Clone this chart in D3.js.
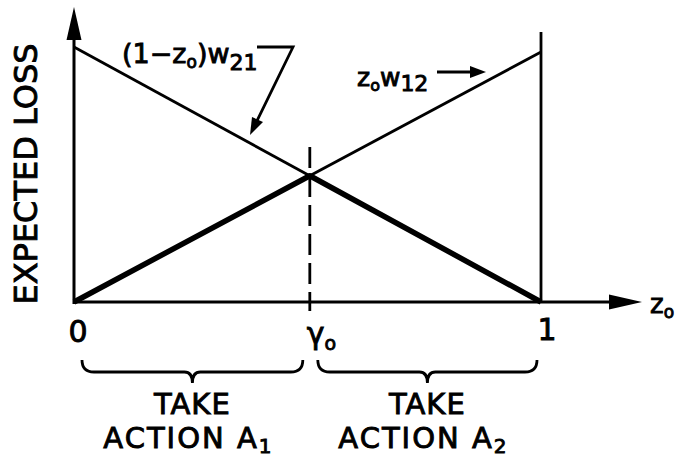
<!DOCTYPE html>
<html>
<head>
<meta charset="utf-8">
<script src="https://cdn.jsdelivr.net/npm/d3@7"></script>
<style>
  body { margin: 0; background: #fff; }
  text { font-family: "DejaVu Sans", sans-serif; fill: #000; stroke: #000; stroke-width: 0.9px; }
</style>
</head>
<body>
<div id="chart"></div>
<script>
// Expected loss for the two actions, as a function of z_o

const width = 680,
    height = 458;

// data
const zPoints = [0, 1];
const lossA1Line = [1.02, 0];   // (1 - z_o) w21
const lossA2Line = [0, 1.0];    // z_o w12
const tickLabels = ["0", "γ", "1"];
const actionLabels = ["A", "A"];
const actionSubs = ["1", "2"];

const svg = d3.select("#chart")
  .append("svg")
  .attr("width", width)
  .attr("height", height);

const x = d3.scaleLinear().domain([0, 1]).range([74, 541]);
const y = d3.scaleLinear().domain([0, 1]).range([302, 52]);

// crossing point of the two lines
const w21 = lossA1Line[0], w12 = lossA2Line[1];
const gamma0 = w21 / (w21 + w12);
const lossAtGamma = gamma0 * w12;

// axes (drawn by hand, with big arrows)
svg.append("line")
  .attr("x1", x(0)).attr("x2", x(0))
  .attr("y1", y(0) + 2).attr("y2", 30)
  .attr("stroke", "#000").attr("stroke-width", 3);
svg.append("path")
  .attr("d", `M${x(0)},7L${x(0) - 7.5},40L${x(0) + 7.5},40Z`)
  .attr("fill", "#000");

svg.append("line")
  .attr("x1", x(0) - 1).attr("x2", 615)
  .attr("y1", y(0)).attr("y2", y(0))
  .attr("stroke", "#000").attr("stroke-width", 3);
svg.append("path")
  .attr("d", `M642,${y(0)}L609,${y(0) - 7.5}L609,${y(0) + 7.5}Z`)
  .attr("fill", "#000");

svg.append("text")
  .attr("x", 650).attr("y", 313)
  .attr("font-size", 26)
  .text("z")
  .append("tspan").attr("font-size", 17).attr("dy", 5).text("o");

// vertical line at z = 1
svg.append("line")
  .attr("x1", x(1)).attr("x2", x(1))
  .attr("y1", y(0)).attr("y2", 32)
  .attr("stroke", "#000").attr("stroke-width", 2.8);

// dashed line at gamma0
svg.append("line")
  .attr("x1", x(gamma0)).attr("x2", x(gamma0))
  .attr("y1", 147).attr("y2", 311)
  .attr("stroke", "#000").attr("stroke-width", 2.8)
  .attr("stroke-dasharray", "21,8");

const line = d3.line().x(d => x(d[0])).y(d => y(d[1]));

// the two loss lines
svg.append("path")
  .attr("d", line(d3.zip(zPoints, lossA1Line)))
  .attr("fill", "none").attr("stroke", "#000").attr("stroke-width", 2.8);
svg.append("path")
  .attr("d", line(d3.zip(zPoints, lossA2Line)))
  .attr("fill", "none").attr("stroke", "#000").attr("stroke-width", 2.8);

// thick minimum envelope
svg.append("path")
  .attr("d", line([[0, 0], [gamma0, lossAtGamma], [1, 0]]))
  .attr("fill", "none").attr("stroke", "#000").attr("stroke-width", 5.5)
  .attr("stroke-linejoin", "round");

// y label
svg.append("text")
  .attr("transform", "translate(37,174) rotate(-90)")
  .attr("text-anchor", "middle")
  .attr("font-size", 32)
  .text("EXPECTED LOSS");

// tick labels
svg.append("text")
  .attr("x", x(0) + 4).attr("y", 342)
  .attr("text-anchor", "middle").attr("font-size", 30)
  .text(tickLabels[0]);
const g = svg.append("text")
  .attr("x", x(gamma0) - 3).attr("y", 344)
  .attr("font-size", 30)
  .text(tickLabels[1]);
g.append("tspan").attr("font-size", 19).attr("dy", 6).text("o");
svg.append("text")
  .attr("x", x(1) + 6).attr("y", 340)
  .attr("text-anchor", "middle").attr("font-size", 30)
  .text(tickLabels[2]);

// braces under the two regions
function brace(x0, x1, yTop) {
  const xm = (x0 + x1) / 2, yMid = yTop + 12, yTip = yTop + 23;
  return `M${x0},${yTop} Q${x0},${yMid} ${x0 + 12},${yMid} L${xm - 8},${yMid} Q${xm},${yMid} ${xm},${yTip}` +
    ` Q${xm},${yMid} ${xm + 8},${yMid} L${x1 - 12},${yMid} Q${x1},${yMid} ${x1},${yTop}`;
}
const spans = [[0, gamma0], [gamma0, 1]];
spans.forEach((s, i) => {
  const x0 = x(s[0]) + 8, x1 = x(s[1]) - (i === 0 ? 7 : 4);
  svg.append("path")
    .attr("d", brace(x0, x1, 360))
    .attr("fill", "none").attr("stroke", "#000").attr("stroke-width", 2.8);
  const cx = (x0 + x1) / 2;
  svg.append("text")
    .attr("x", cx).attr("y", 414)
    .attr("text-anchor", "middle").attr("font-size", 29).attr("letter-spacing", 1)
    .text("TAKE");
  const t = svg.append("text")
    .attr("x", cx - 4).attr("y", 448)
    .attr("text-anchor", "middle").attr("font-size", 29).attr("letter-spacing", 2)
    .text("ACTION " + actionLabels[i]);
  t.append("tspan").attr("font-size", 20).attr("dy", 5).text(actionSubs[i]);
});

// line labels
const l1 = svg.append("text")
  .attr("x", 122).attr("y", 63)
  .attr("font-size", 27)
  .text("(1−z");
l1.append("tspan").attr("font-size", 17).attr("dy", 5).text("o");
l1.append("tspan").attr("font-size", 27).attr("dy", -5).text(")w");
l1.append("tspan").attr("font-size", 22).attr("dy", 7).text("21");

svg.append("path")
  .attr("d", "M257,47L293,47L255,125")
  .attr("fill", "none").attr("stroke", "#000").attr("stroke-width", 2.8);
svg.append("path")
  .attr("d", "M250,135L252,117L263,122Z")
  .attr("fill", "#000");

const l2 = svg.append("text")
  .attr("x", 357).attr("y", 86)
  .attr("font-size", 25)
  .text("z");
l2.append("tspan").attr("font-size", 16).attr("dy", 5).text("o");
l2.append("tspan").attr("font-size", 25).attr("dy", -5).text("w");
l2.append("tspan").attr("font-size", 22).attr("dy", 5).text("12");

svg.append("line")
  .attr("x1", 437).attr("x2", 472)
  .attr("y1", 72).attr("y2", 72)
  .attr("stroke", "#000").attr("stroke-width", 2.8);
svg.append("path")
  .attr("d", "M486,72L470,66L470,78Z")
  .attr("fill", "#000");
</script>
</body>
</html>
